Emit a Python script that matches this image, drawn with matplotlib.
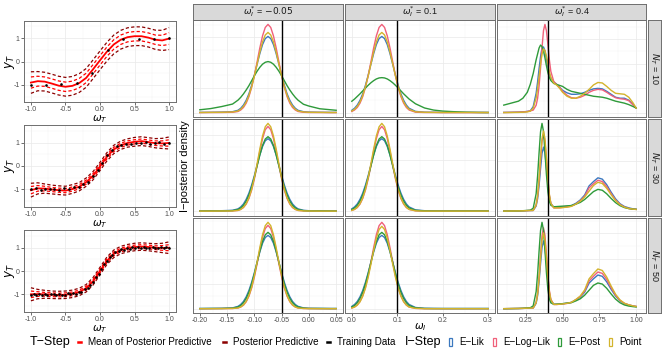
import matplotlib.pyplot as plt
import numpy as np
from matplotlib.lines import Line2D
from matplotlib.patches import Rectangle
from matplotlib.ticker import AutoMinorLocator, MaxNLocator

plt.rcParams['font.family'] = ['Liberation Sans', 'DejaVu Sans']
plt.rcParams['mathtext.fontset'] = 'dejavusans'

# ---------------- T-step data (left column) ----------------
grid_t = [-1.0, -0.9, -0.8, -0.7, -0.6, -0.5, -0.4, -0.3, -0.2, -0.1, 0.0,
          0.1, 0.2, 0.3, 0.4, 0.5, 0.6, 0.7, 0.8, 0.9, 1.0]

mean_n10 = [-0.90, -0.84, -0.86, -0.94, -1.03, -1.08, -1.04, -0.92, -0.70, -0.33, 0.05,
            0.42, 0.73, 0.93, 1.04, 1.08, 1.08, 1.02, 0.93, 0.90, 0.98]
inner_n10 = [0.24, 0.21, 0.2, 0.2, 0.2, 0.2, 0.2, 0.2, 0.2, 0.2, 0.2,
             0.2, 0.2, 0.2, 0.2, 0.2, 0.2, 0.2, 0.2, 0.22, 0.25]
outer_n10 = [0.46, 0.41, 0.4, 0.4, 0.4, 0.4, 0.4, 0.4, 0.4, 0.4, 0.4,
             0.4, 0.4, 0.4, 0.4, 0.4, 0.4, 0.4, 0.41, 0.43, 0.47]
train_x10 = [-1.0, -0.78, -0.56, -0.33, -0.11, 0.11, 0.33, 0.56, 0.78, 1.0]
train_y10 = [-1.0, -1.0, -0.97, -0.91, -0.49, 0.51, 0.94, 0.98, 0.98, 1.01]

mean_n30 = [-1.05, -0.97, -0.98, -1.02, -1.05, -1.07, -1.0, -0.9, -0.7, -0.42, -0.02,
            0.4, 0.72, 0.9, 1.0, 1.05, 1.08, 1.04, 0.99, 0.98, 1.0]
inner_n30 = [0.16, 0.12, 0.1, 0.09, 0.09, 0.09, 0.09, 0.09, 0.09, 0.09, 0.09,
             0.09, 0.09, 0.09, 0.09, 0.09, 0.09, 0.09, 0.1, 0.11, 0.14]
outer_n30 = [0.3, 0.24, 0.2, 0.19, 0.19, 0.19, 0.19, 0.18, 0.18, 0.18, 0.18,
             0.18, 0.18, 0.18, 0.18, 0.19, 0.19, 0.19, 0.2, 0.22, 0.26]
train_x30 = [-1.0, -0.93, -0.86, -0.79, -0.72, -0.66, -0.59, -0.52, -0.45, -0.38,
             -0.31, -0.24, -0.17, -0.1, -0.03, 0.03, 0.1, 0.17, 0.24, 0.31,
             0.38, 0.45, 0.52, 0.59, 0.66, 0.72, 0.79, 0.86, 0.93, 1.0]
train_y30 = [-1.0, -0.97, -1.03, -0.98, -1.02, -0.99, -1.04, -0.97, -0.99, -0.93,
             -0.93, -0.80, -0.70, -0.44, -0.17, 0.13, 0.48, 0.68, 0.85, 0.90,
             0.97, 0.95, 1.02, 0.98, 1.03, 0.97, 1.01, 1.04, 0.97, 1.0]

mean_n50 = [-1.0, -0.99, -1.0, -1.02, -1.03, -1.02, -0.98, -0.9, -0.74, -0.44, 0.0,
            0.44, 0.74, 0.9, 0.98, 1.03, 1.05, 1.03, 1.0, 0.99, 1.0]
inner_n50 = [0.14, 0.1, 0.08, 0.08, 0.08, 0.08, 0.08, 0.08, 0.08, 0.08, 0.08,
             0.08, 0.08, 0.08, 0.08, 0.08, 0.08, 0.08, 0.08, 0.1, 0.13]
outer_n50 = [0.28, 0.2, 0.17, 0.16, 0.16, 0.16, 0.16, 0.16, 0.16, 0.16, 0.16,
             0.16, 0.16, 0.16, 0.16, 0.16, 0.16, 0.16, 0.17, 0.2, 0.25]
train_x50 = [-1.0, -0.96, -0.92, -0.88, -0.84, -0.8, -0.76, -0.71, -0.67, -0.63,
             -0.59, -0.55, -0.51, -0.47, -0.43, -0.39, -0.35, -0.31, -0.27, -0.22,
             -0.18, -0.14, -0.1, -0.06, -0.02, 0.02, 0.06, 0.1, 0.14, 0.18,
             0.22, 0.27, 0.31, 0.35, 0.39, 0.43, 0.47, 0.51, 0.55, 0.59,
             0.63, 0.67, 0.71, 0.76, 0.8, 0.84, 0.88, 0.92, 0.96, 1.0]
train_y50 = [-1.02, -0.98, -1.03, -0.99, -1.01, -0.97, -1.04, -1.0, -0.98, -1.02,
             -0.97, -1.01, -1.03, -0.96, -0.99, -0.94, -0.97, -0.88, -0.90, -0.78,
             -0.73, -0.58, -0.49, -0.27, -0.12, 0.08, 0.31, 0.44, 0.62, 0.70,
             0.82, 0.85, 0.93, 0.92, 0.98, 0.95, 1.01, 0.97, 1.02, 0.98,
             1.03, 0.99, 0.97, 1.02, 1.0, 0.98, 1.03, 0.99, 1.01, 1.0]

# ---------------- I-step densities (right grid) ----------------
true_w = [-0.05, 0.1, 0.4]
n_train = [10, 30, 50]
methods = ['E-Lik', 'E-Log-Lik', 'E-Post', 'Point']
colors = ['#3b78bf', '#f0607a', '#2e9a3a', '#d3b42c']

x_c1 = [-0.20, -0.18, -0.16, -0.14, -0.13, -0.125, -0.12, -0.115, -0.11, -0.105, -0.10,
        -0.095, -0.09, -0.085, -0.08, -0.075, -0.07, -0.065, -0.06, -0.055, -0.05,
        -0.045, -0.04, -0.035, -0.03, -0.025, -0.02, -0.01, 0.00, 0.02, 0.04, 0.05]
x_c2 = [0.000, 0.006, 0.012, 0.018, 0.024, 0.030, 0.036, 0.042, 0.048, 0.054, 0.060,
        0.066, 0.072, 0.078, 0.084, 0.090, 0.096, 0.102, 0.108, 0.114, 0.120, 0.126,
        0.14, 0.16, 0.18, 0.20, 0.22, 0.25, 0.28, 0.30]
x_c3 = [0.10, 0.15, 0.20, 0.23, 0.26, 0.28, 0.30, 0.32, 0.33, 0.34, 0.35, 0.36, 0.37,
        0.38, 0.39, 0.40, 0.41, 0.42, 0.44, 0.46, 0.48, 0.50, 0.53, 0.56, 0.59, 0.62,
        0.65, 0.68, 0.71, 0.74, 0.77, 0.80, 0.83, 0.86, 0.89, 0.92, 0.95, 0.98, 1.00]

# row N_T = 10
lik_r1c1 = [0.4, 0.5, 0.7, 1.1, 2.5, 4.5, 7.7, 12.4, 18.9, 27.4, 37.4, 48.3, 58.9, 67.9, 73.9, 76.0,
            73.9, 67.9, 58.9, 48.3, 37.4, 27.4, 18.9, 12.4, 7.7, 4.5, 2.5, 1.1, 0.7, 0.5, 0.4, 0.4]
loglik_r1c1 = [0.2, 0.3, 0.3, 0.5, 1.3, 2.8, 5.3, 9.6, 16.1, 25.3, 37.0, 50.6, 64.5, 76.6, 85.0, 88.0,
               85.0, 76.6, 64.5, 50.6, 37.0, 25.3, 16.1, 9.6, 5.3, 2.8, 1.3, 0.5, 0.3, 0.3, 0.2, 0.2]
post_r1c1 = [3.0, 4.2, 6.2, 8.7, 12.6, 15.4, 18.8, 22.7, 27.0, 31.9, 36.8, 41.4, 45.3, 48.4, 50.3, 51.0,
             50.3, 48.4, 45.3, 41.4, 36.8, 31.9, 27.0, 22.7, 18.8, 15.4, 12.6, 8.5, 6.7, 4.0, 3.0, 2.5]
point_r1c1 = [0.3, 0.4, 0.5, 0.8, 1.8, 3.5, 6.4, 10.8, 17.3, 26.0, 36.6, 48.6, 60.4, 70.6, 77.5, 80.0,
              77.5, 70.6, 60.4, 48.6, 36.6, 26.0, 17.3, 10.8, 6.4, 3.5, 1.8, 0.8, 0.5, 0.4, 0.3, 0.3]

lik_r1c2 = [2.5, 4.5, 7.7, 12.4, 18.9, 27.4, 37.4, 48.3, 58.9, 67.9, 73.9, 76.0, 73.9, 67.9, 58.9,
            48.3, 37.4, 27.4, 18.9, 12.4, 7.7, 4.5, 1.4, 0.6, 0.5, 0.4, 0.4, 0.4, 0.4, 0.4]
loglik_r1c2 = [1.3, 2.8, 5.3, 9.6, 16.1, 25.3, 37.0, 50.6, 64.5, 76.6, 85.0, 88.0, 85.0, 76.6, 64.5,
               50.6, 37.0, 25.3, 16.1, 9.6, 5.3, 2.8, 0.6, 0.3, 0.3, 0.2, 0.2, 0.2, 0.2, 0.2]
post_r1c2 = [11.5, 13.7, 16.3, 18.9, 21.8, 24.6, 27.4, 29.9, 32.0, 33.7, 34.7, 35.0, 34.7, 33.7, 32.0,
             29.9, 27.4, 24.6, 21.8, 18.9, 16.3, 13.7, 9.0, 4.8, 2.7, 1.7, 1.2, 0.6, 0.3, 0.2]
point_r1c2 = [1.8, 3.5, 6.4, 10.8, 17.3, 26.0, 36.6, 48.6, 60.4, 70.6, 77.5, 80.0, 77.5, 70.6, 60.4,
              48.6, 36.6, 26.0, 17.3, 10.8, 6.4, 3.5, 1.0, 0.5, 0.4, 0.3, 0.3, 0.3, 0.3, 0.3]

lik_r1c3 = [0.6, 0.7, 0.9, 1.1, 1.6, 2.1, 6.4, 20.0, 31.5, 44.9, 57.2, 66.1, 67.1, 63.2, 54.9, 46.5,
            40.0, 35.4, 31.6, 29.0, 26.0, 23.0, 20.5, 19.0, 19.0, 19.5, 21.0, 23.0, 24.5, 25.0,
            24.5, 22.0, 19.0, 16.0, 15.0, 15.0, 13.0, 8.5, 5.0]
loglik_r1c3 = [0.5, 0.6, 0.8, 1.0, 1.5, 2.2, 2.9, 7.8, 14.8, 27.4, 45.5, 66.4, 83.7, 90.0, 83.6, 69.6,
               53.9, 42.3, 31.9, 29.0, 26.0, 22.0, 18.0, 15.5, 15.0, 16.0, 18.0, 21.0, 23.0, 24.0,
               23.5, 21.0, 18.0, 15.5, 14.5, 14.0, 12.5, 8.0, 5.0]
post_r1c3 = [8.0, 10.0, 12.0, 15.0, 21.0, 29.0, 40.0, 54.0, 60.0, 66.0, 69.0, 67.5, 63.0, 56.0, 48.0,
             41.0, 36.0, 33.0, 30.0, 29.0, 28.0, 27.0, 24.0, 22.0, 21.0, 20.0, 19.0, 18.0, 17.0,
             16.5, 16.0, 15.0, 13.5, 12.0, 11.0, 10.0, 8.5, 6.5, 5.0]
point_r1c3 = [0.4, 0.5, 0.6, 0.8, 1.1, 1.8, 4.9, 15.2, 24.8, 37.0, 49.6, 59.6, 65.0, 63.6, 57.6, 50.0,
              41.8, 36.2, 30.4, 28.3, 25.0, 21.0, 17.0, 15.0, 15.0, 17.0, 20.0, 24.0, 28.5, 31.0,
              30.5, 27.0, 23.0, 20.0, 19.5, 19.0, 16.0, 10.0, 5.0]

# row N_T = 30
lik_r2c1 = [0.3, 0.4, 0.5, 0.9, 2.3, 4.2, 7.1, 11.6, 17.7, 25.6, 34.9, 45.1, 55.0, 63.4, 69.0, 71.0,
            69.0, 63.4, 55.0, 45.1, 34.9, 25.6, 17.7, 11.6, 7.1, 4.2, 2.3, 0.9, 0.5, 0.4, 0.3, 0.3]
loglik_r2c1 = [0.1, 0.1, 0.2, 0.3, 0.8, 1.8, 3.6, 7.0, 12.5, 20.7, 31.6, 44.7, 58.7, 71.1, 79.8, 83.0,
               79.8, 71.1, 58.7, 44.7, 31.6, 20.7, 12.5, 7.0, 3.6, 1.8, 0.8, 0.3, 0.2, 0.1, 0.1, 0.1]
post_r2c1 = [0.2, 0.3, 0.3, 0.6, 1.7, 3.2, 5.8, 9.9, 15.8, 23.7, 33.4, 44.3, 55.1, 64.4, 70.7, 73.0,
             70.7, 64.4, 55.1, 44.3, 33.4, 23.7, 15.8, 9.9, 5.8, 3.2, 1.7, 0.6, 0.3, 0.3, 0.2, 0.2]
point_r2c1 = [0.1, 0.1, 0.2, 0.3, 0.8, 1.8, 3.8, 7.3, 13.0, 21.4, 32.8, 46.4, 60.8, 73.7, 82.7, 86.0,
              82.7, 73.7, 60.8, 46.4, 32.8, 21.4, 13.0, 7.3, 3.8, 1.8, 0.8, 0.3, 0.2, 0.1, 0.1, 0.1]

lik_r2c2 = [2.3, 4.2, 7.1, 11.6, 17.7, 25.6, 34.9, 45.1, 55.0, 63.4, 69.0, 71.0, 69.0, 63.4, 55.0,
            45.1, 34.9, 25.6, 17.7, 11.6, 7.1, 4.2, 1.3, 0.5, 0.4, 0.3, 0.3, 0.3, 0.3, 0.3]
loglik_r2c2 = [0.8, 1.8, 3.6, 7.0, 12.5, 20.7, 31.6, 44.7, 58.7, 71.1, 79.8, 83.0, 79.8, 71.1, 58.7,
               44.7, 31.6, 20.7, 12.5, 7.0, 3.6, 1.8, 0.4, 0.1, 0.1, 0.1, 0.1, 0.1, 0.1, 0.1]
post_r2c2 = [1.7, 3.2, 5.8, 9.9, 15.8, 23.7, 33.4, 44.3, 55.1, 64.4, 70.7, 73.0, 70.7, 64.4, 55.1,
             44.3, 33.4, 23.7, 15.8, 9.9, 5.8, 3.2, 0.9, 0.3, 0.2, 0.2, 0.2, 0.2, 0.2, 0.2]
point_r2c2 = [0.8, 1.8, 3.8, 7.3, 13.0, 21.4, 32.8, 46.4, 60.8, 73.7, 82.7, 86.0, 82.7, 73.7, 60.8,
              46.4, 32.8, 21.4, 13.0, 7.3, 3.8, 1.8, 0.4, 0.1, 0.1, 0.1, 0.1, 0.1, 0.1, 0.1]

lik_r2c3 = [0.3, 0.4, 0.5, 0.6, 0.8, 0.9, 0.9, 5.3, 12.5, 25.4, 42.1, 57.3, 63.5, 57.8, 43.1, 26.9,
            15.0, 8.0, 4.0, 4.0, 4.2, 4.5, 5.0, 5.8, 8.0, 11.3, 16.2, 25.2, 29.5, 33.2, 31.9, 26.4,
            19.0, 12.4, 7.6, 4.9, 3.5, 2.5, 2.2]
loglik_r2c3 = [0.3, 0.4, 0.5, 0.6, 0.8, 0.9, 1.0, 6.2, 15.0, 30.5, 50.7, 69.1, 76.5, 69.3, 51.2, 31.3,
               16.2, 7.7, 3.5, 3.5, 3.6, 3.9, 4.4, 5.2, 7.3, 10.5, 15.0, 23.3, 27.3, 30.8, 29.5, 24.4,
               17.5, 11.3, 6.9, 4.3, 2.9, 2.2, 2.0]
post_r2c3 = [0.3, 0.4, 0.5, 0.7, 1.0, 1.2, 3.1, 17.4, 35.0, 57.8, 78.6, 87.0, 79.1, 58.8, 36.5, 19.4,
             10.0, 6.1, 4.6, 4.8, 5.0, 5.2, 5.5, 5.8, 7.2, 8.9, 11.8, 15.7, 19.6, 21.8, 20.9, 17.4,
             12.8, 8.7, 5.7, 3.8, 2.8, 2.2, 2.0]
point_r2c3 = [0.3, 0.4, 0.5, 0.6, 0.8, 0.9, 1.0, 6.5, 15.6, 31.7, 52.7, 71.8, 79.5, 72.0, 53.2, 32.5,
              16.8, 8.0, 3.5, 3.5, 3.5, 3.8, 4.2, 5.0, 7.2, 10.1, 14.3, 20.0, 25.6, 28.8, 27.6, 22.8,
              16.5, 10.7, 6.6, 4.2, 2.9, 2.2, 2.0]

# row N_T = 50
lik_r3c1 = [0.3, 0.4, 0.5, 0.9, 2.4, 4.3, 7.3, 11.9, 18.2, 26.3, 35.9, 46.4, 56.5, 65.2, 70.9, 73.0,
            70.9, 65.2, 56.5, 46.4, 35.9, 26.3, 18.2, 11.9, 7.3, 4.3, 2.4, 0.9, 0.5, 0.4, 0.3, 0.3]
loglik_r3c1 = [0.1, 0.1, 0.2, 0.3, 0.8, 1.8, 3.6, 7.0, 12.5, 20.7, 31.6, 44.7, 58.7, 71.1, 79.8, 83.0,
               79.8, 71.1, 58.7, 44.7, 31.6, 20.7, 12.5, 7.0, 3.6, 1.8, 0.8, 0.3, 0.2, 0.1, 0.1, 0.1]
post_r3c1 = [0.2, 0.3, 0.3, 0.6, 1.8, 3.3, 6.0, 10.3, 16.4, 24.7, 34.8, 46.1, 57.4, 67.0, 73.6, 76.0,
             73.6, 67.0, 57.4, 46.1, 34.8, 24.7, 16.4, 10.3, 6.0, 3.3, 1.8, 0.6, 0.3, 0.3, 0.2, 0.2]
point_r3c1 = [0.1, 0.1, 0.2, 0.3, 0.8, 1.8, 3.8, 7.3, 13.0, 21.4, 32.8, 46.4, 60.8, 73.7, 82.7, 86.0,
              82.7, 73.7, 60.8, 46.4, 32.8, 21.4, 13.0, 7.3, 3.8, 1.8, 0.8, 0.3, 0.2, 0.1, 0.1, 0.1]

lik_r3c2 = [2.4, 4.3, 7.3, 11.9, 18.2, 26.3, 35.9, 46.4, 56.5, 65.2, 70.9, 73.0, 70.9, 65.2, 56.5,
            46.4, 35.9, 26.3, 18.2, 11.9, 7.3, 4.3, 1.3, 0.5, 0.4, 0.3, 0.3, 0.3, 0.3, 0.3]
loglik_r3c2 = [0.8, 1.8, 3.8, 7.3, 13.0, 21.4, 32.8, 46.4, 60.8, 73.7, 82.7, 86.0, 82.7, 73.7, 60.8,
               46.4, 32.8, 21.4, 13.0, 7.3, 3.8, 1.8, 0.4, 0.1, 0.1, 0.1, 0.1, 0.1, 0.1, 0.1]
post_r3c2 = [1.8, 3.3, 6.0, 10.3, 16.4, 24.7, 34.8, 46.1, 57.4, 67.0, 73.6, 76.0, 73.6, 67.0, 57.4,
             46.1, 34.8, 24.7, 16.4, 10.3, 6.0, 3.3, 0.9, 0.3, 0.2, 0.2, 0.2, 0.2, 0.2, 0.2]
point_r3c2 = [0.8, 1.7, 3.6, 6.9, 12.4, 20.4, 31.3, 44.2, 58.0, 70.3, 78.9, 82.0, 78.9, 70.3, 58.0,
              44.2, 31.3, 20.4, 12.4, 6.9, 3.6, 1.7, 0.4, 0.1, 0.1, 0.1, 0.1, 0.1, 0.1, 0.1]

lik_r3c3 = [0.3, 0.4, 0.5, 0.6, 0.8, 0.9, 0.9, 5.6, 13.3, 27.0, 44.8, 60.9, 67.5, 61.4, 45.8, 28.5,
            15.8, 8.6, 4.6, 4.6, 4.8, 5.2, 5.8, 6.6, 9.0, 11.8, 16.7, 25.7, 30.0, 33.7, 32.4, 26.9,
            19.5, 12.9, 8.1, 5.4, 4.0, 3.0, 2.5]
loglik_r3c3 = [0.3, 0.4, 0.5, 0.6, 0.8, 0.9, 1.0, 6.5, 15.8, 32.1, 53.4, 72.7, 80.5, 73.2, 54.4, 33.6,
               18.3, 9.5, 4.5, 4.5, 4.7, 5.0, 5.5, 6.5, 9.2, 12.3, 17.8, 27.8, 32.5, 36.7, 35.3, 29.3,
               21.1, 13.7, 8.6, 5.6, 4.0, 3.0, 2.5]
post_r3c3 = [0.3, 0.4, 0.5, 0.7, 1.0, 1.2, 3.1, 17.2, 34.6, 57.2, 77.7, 86.0, 78.2, 58.2, 36.1, 19.2,
             9.9, 6.1, 4.6, 4.8, 5.0, 5.3, 5.8, 6.3, 8.0, 10.1, 13.7, 18.6, 23.5, 25.8, 24.7, 20.5,
             14.9, 9.8, 6.2, 4.0, 2.9, 2.3, 2.0]
point_r3c3 = [0.3, 0.4, 0.5, 0.6, 0.8, 0.9, 1.0, 6.2, 14.8, 30.1, 50.1, 68.2, 75.5, 68.7, 51.1, 31.6,
              17.3, 9.2, 4.5, 4.5, 4.7, 5.0, 5.6, 6.6, 9.4, 12.9, 18.9, 29.9, 35.1, 39.7, 38.2, 31.6,
              22.7, 14.6, 9.0, 5.7, 4.1, 3.0, 2.5]

# ---------------- layout helpers (pixel boxes) ----------------
W, H = 664, 354
fig = plt.figure(figsize=(W / 100, H / 100), dpi=100)

def box(x0, y0, x1, y1):
    return [x0 / W, 1 - y1 / H, (x1 - x0) / W, (y1 - y0) / H]

border = '#6e6e6e'
tick_col = '#4d4d4d'

def style(ax):
    for s in ax.spines.values():
        s.set_color(border)
        s.set_linewidth(0.7)
    ax.grid(True, which='major', color='#ebebeb', lw=0.55)
    ax.grid(True, which='minor', color='#f3f3f3', lw=0.35)
    ax.set_axisbelow(True)
    ax.tick_params(which='major', length=2, width=0.5, color='#333333',
                   labelsize=5, labelcolor=tick_col, pad=1)
    ax.tick_params(which='minor', length=0)

# ---------------- left column ----------------
left_sets = [(mean_n10, inner_n10, outer_n10, train_x10, train_y10, (21, 102), (-1.73, 1.73)),
             (mean_n30, inner_n30, outer_n30, train_x30, train_y30, (125, 207), (-1.78, 1.78)),
             (mean_n50, inner_n50, outer_n50, train_x50, train_y50, (230, 312), (-1.76, 1.76))]

for mean, inner, outer, tx, ty, (y0, y1), ylim in left_sets:
    ax = fig.add_axes(box(24, y0, 176, y1))
    style(ax)
    m = np.array(mean)
    wi = np.array(inner)
    wo = np.array(outer)
    for sgn in (1, -1):
        ax.plot(grid_t, m + sgn * wo, color='#8b0000', lw=0.9, dashes=(2.6, 1.8))
        ax.plot(grid_t, m + sgn * wi, color='red', lw=0.9, dashes=(2.6, 1.8))
    ax.plot(grid_t, m, color='red', lw=1.3)
    ax.plot(tx, ty, 'o', color='black', ms=1.9, mew=0)
    ax.set_xlim(-1.1, 1.1)
    ax.set_ylim(*ylim)
    ax.set_xticks([-1, -0.5, 0, 0.5, 1])
    ax.set_xticklabels(['-1.0', '-0.5', '0.0', '0.5', '1.0'])
    ax.set_yticks([-1, 0, 1])
    ax.set_yticklabels(['-1', '0', '1'])
    ax.xaxis.set_minor_locator(AutoMinorLocator(2))
    ax.yaxis.set_minor_locator(AutoMinorLocator(2))
    ax.set_xlabel(r'$\omega_T$', fontsize=7.5, labelpad=0)
    ax.set_ylabel(r'$y_T$', fontsize=8.5, va='center')
    ax.yaxis.set_label_coords(-0.092, 0.5)

# ---------------- right grid ----------------
cols = [(193, 343), (345, 495), (497, 646)]
rows = [(20, 117), (119, 215.5), (218, 313)]
xgrids = [x_c1, x_c2, x_c3]
xlims = [(-0.2125, 0.0625), (-0.015, 0.315), (0.054, 1.067)]
xticks = [[-0.20, -0.15, -0.10, -0.05, 0.00, 0.05], [0.0, 0.1, 0.2, 0.3], [0.25, 0.50, 0.75, 1.00]]
xticklabels = [['-0.20', '-0.15', '-0.10', '-0.05', '0.00', '0.05'],
               ['0.0', '0.1', '0.2', '0.3'], ['0.25', '0.50', '0.75', '1.00']]
dens = [[[lik_r1c1, loglik_r1c1, post_r1c1, point_r1c1],
         [lik_r1c2, loglik_r1c2, post_r1c2, point_r1c2],
         [lik_r1c3, loglik_r1c3, post_r1c3, point_r1c3]],
        [[lik_r2c1, loglik_r2c1, post_r2c1, point_r2c1],
         [lik_r2c2, loglik_r2c2, post_r2c2, point_r2c2],
         [lik_r2c3, loglik_r2c3, post_r2c3, point_r2c3]],
        [[lik_r3c1, loglik_r3c1, post_r3c1, point_r3c1],
         [lik_r3c2, loglik_r3c2, post_r3c2, point_r3c2],
         [lik_r3c3, loglik_r3c3, post_r3c3, point_r3c3]]]

for i, (ry0, ry1) in enumerate(rows):
    for j, (cx0, cx1) in enumerate(cols):
        ax = fig.add_axes(box(cx0, ry0, cx1, ry1))
        style(ax)
        for k in range(4):
            ax.plot(xgrids[j], dens[i][j][k], color=colors[k], lw=1.0)
        ax.axvline(true_w[j], color='black', lw=1.0)
        ax.set_xlim(*xlims[j])
        ax.margins(y=0.05)
        ax.yaxis.set_major_locator(MaxNLocator(4))
        ax.yaxis.set_minor_locator(AutoMinorLocator(2))
        ax.set_xticks(xticks[j])
        ax.xaxis.set_minor_locator(AutoMinorLocator(2))
        ax.tick_params(axis='y', length=0, labelleft=False)
        if i < 2:
            ax.tick_params(axis='x', length=0, labelbottom=False)
        else:
            ax.set_xticklabels(xticklabels[j])

# strips
strip_labels = [r'$\omega_I^{*}$ = $-0.05$', r'$\omega_I^{*}$ = 0.1', r'$\omega_I^{*}$ = 0.4']
for j, (cx0, cx1) in enumerate(cols):
    sa = fig.add_axes(box(cx0, 4, cx1, 19.5))
    sa.set_facecolor('#d9d9d9')
    sa.set_xticks([])
    sa.set_yticks([])
    for s in sa.spines.values():
        s.set_color(border)
        s.set_linewidth(0.7)
    sa.text(0.5, 0.5, strip_labels[j], ha='center', va='center', fontsize=6.5,
            color='#1a1a1a', transform=sa.transAxes)

for i, (ry0, ry1) in enumerate(rows):
    sa = fig.add_axes(box(648, ry0, 661, ry1))
    sa.set_facecolor('#d9d9d9')
    sa.set_xticks([])
    sa.set_yticks([])
    for s in sa.spines.values():
        s.set_color(border)
        s.set_linewidth(0.7)
    sa.text(0.5, 0.5, r'$N_T$' + ' = %d' % n_train[i], ha='center', va='center',
            rotation=270, fontsize=6.5, color='#1a1a1a', transform=sa.transAxes)

fig.text(185 / W, 1 - 166 / H, 'I\u2212posterior density', rotation=90,
         ha='center', va='center', fontsize=8)
fig.text(420 / W, 1 - 327 / H, r'$\omega_I$', ha='center', va='center', fontsize=7.5)

# ---------------- legend (drawn in pixel space) ----------------
lg = fig.add_axes([0, 0, 1, 1])
lg.set_xlim(0, W)
lg.set_ylim(H, 0)
lg.axis('off')
ly = 342
lg.text(30, ly, 'T\u2212Step', fontsize=9, va='center', ha='left')
t_items = [(79, 'red', 'Mean of Posterior Predictive'),
           (224, '#8b0000', 'Posterior Predictive'),
           (328, 'black', 'Training Data')]
for x, c, lab in t_items:
    lg.add_line(Line2D([x - 1.5, x + 1.5], [ly, ly], color=c, lw=1.8))
    lg.text(x + 9, ly, lab, fontsize=7.1, va='center', ha='left')
lg.text(405, ly, 'I\u2212Step', fontsize=9, va='center', ha='left')
i_x = [450, 494, 559, 610]
for x, c, lab in zip(i_x, colors, methods):
    lg.add_patch(Rectangle((x - 1.5, ly - 4), 3, 8, facecolor='white', edgecolor=c, lw=0.9))
    lg.text(x + 9, ly, lab.replace('-', '\u2212'), fontsize=7.1, va='center', ha='left')

fig.savefig('out.png', dpi=100)
